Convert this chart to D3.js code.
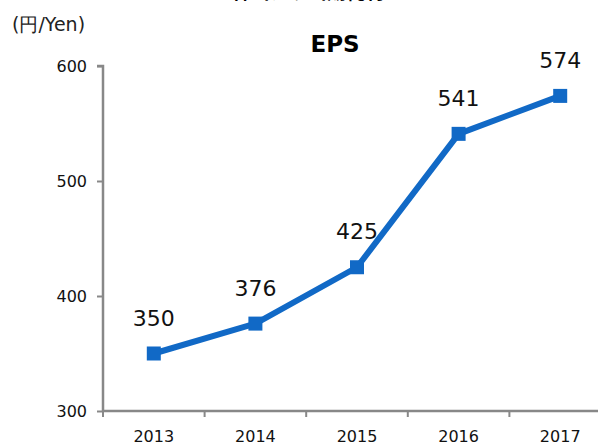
<!DOCTYPE html>
<html lang="ja">
<head>
<meta charset="UTF-8">
<title>EPS</title>
<script src="https://d3js.org/d3.v7.min.js"></script>
<style>
  body { margin: 0; background: #fff; }
  svg text { font-family: "DejaVu Sans", Verdana, sans-serif; }
</style>
</head>
<body>
<div id="chart"></div>
<script>
// data
const years = ["2013", "2014", "2015", "2016", "2017"];
const eps = [350, 376, 425, 541, 574];
const yTicks = [300, 400, 500, 600];

const W = 598, H = 445;
const margin = {top: 66, left: 103, bottom: 34};
const plotH = H - margin.top - margin.bottom; // 345

const svg = d3.select("#chart").append("svg")
    .attr("width", W).attr("height", H);

// title line that sits mostly above the top edge (cut off in the original too)
svg.append("text")
    .attr("x", 312).attr("y", -1)
    .attr("text-anchor", "middle")
    .style("font-family", "'Noto Sans CJK JP', sans-serif")
    .style("font-weight", "bold")
    .style("font-size", "19px")
    .text("1株当たり当期純利益");

svg.append("text")
    .attr("x", 12).attr("y", 31)
    .style("font-size", "19px")
    .style("fill", "#222")
    .text("(円/Yen)");

svg.append("text")
    .attr("x", 335).attr("y", 52)
    .attr("text-anchor", "middle")
    .style("font-size", "23px")
    .style("font-weight", "bold")
    .text("EPS");

const g = svg.append("g").attr("transform", `translate(${margin.left},${margin.top})`);

const x = d3.scaleBand().domain(years).range([0, 508]);
const y = d3.scaleLinear().domain([300, 600]).range([plotH, 0]);

// y axis
const yAxis = g.append("g")
    .call(d3.axisLeft(y).tickValues(yTicks).tickSize(6).tickPadding(10));
// x axis
const xAxis = g.append("g")
    .attr("transform", `translate(0,${plotH})`)
    .call(d3.axisBottom(x).tickSize(0).tickPadding(20));

// x ticks at band edges
g.append("g").selectAll("line")
    .data(years)
  .join("line")
    .attr("x1", d => x(d)).attr("x2", d => x(d))
    .attr("y1", plotH).attr("y2", plotH + 6)
    .attr("stroke", "#888").attr("stroke-width", 2);

[yAxis, xAxis].forEach(a => {
    a.select(".domain").attr("stroke", "#888").attr("stroke-width", 2.5);
    a.selectAll(".tick line").attr("stroke", "#888").attr("stroke-width", 2);
    a.selectAll("text").style("font-size", "16px").style("fill", "#111")
        .style("font-family", "'DejaVu Sans', Verdana, sans-serif");
});
yAxis.select(".domain").attr("d", `M-6,0H0V${plotH}`);
xAxis.select(".domain").attr("d", `M0,0H${508}`);

const cx = d => x(d) + x.bandwidth() / 2;
const pts = years.map((d, i) => ({year: d, v: eps[i]}));

g.append("path")
    .datum(pts)
    .attr("fill", "none")
    .attr("stroke", "#1169c6")
    .attr("stroke-width", 6)
    .attr("stroke-linejoin", "round")
    .attr("d", d3.line().x(d => cx(d.year)).y(d => y(d.v)));

g.selectAll("rect.mk")
    .data(pts)
  .join("rect")
    .attr("class", "mk")
    .attr("x", d => cx(d.year) - 7)
    .attr("y", d => y(d.v) - 7)
    .attr("width", 14).attr("height", 14)
    .attr("fill", "#1169c6");

g.selectAll("text.lbl")
    .data(pts)
  .join("text")
    .attr("class", "lbl")
    .attr("x", d => cx(d.year))
    .attr("y", d => y(d.v) - 28)
    .attr("text-anchor", "middle")
    .style("font-size", "22px")
    .style("fill", "#111")
    .text(d => d.v);
</script>
</body>
</html>
